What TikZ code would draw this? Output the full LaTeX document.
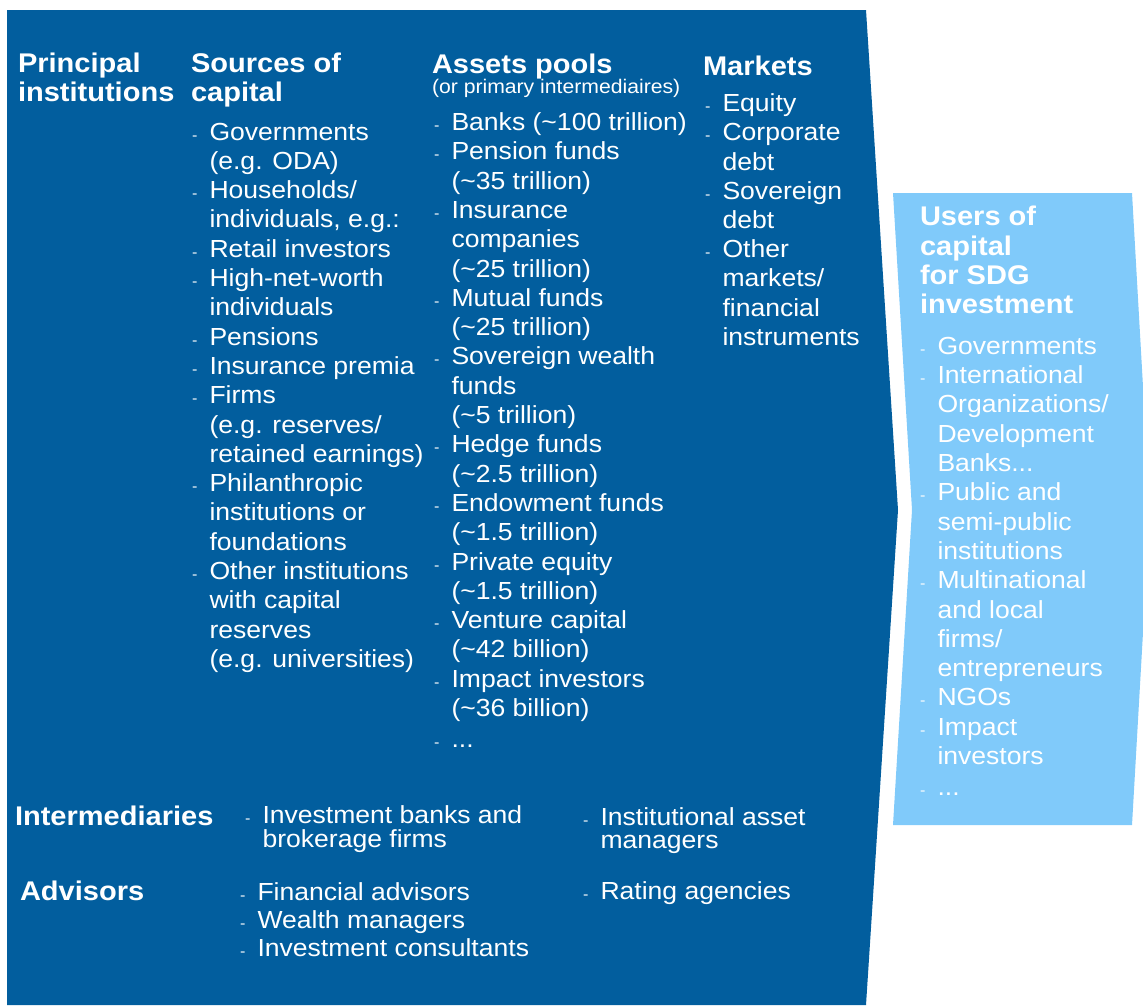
\documentclass[tikz,border=0pt]{standalone}
\usepackage{fontspec}
\setmainfont{Liberation Sans}[FakeStretch=1.075]
\definecolor{dkblue}{RGB}{2,94,158}
\definecolor{ltblue}{RGB}{128,202,250}
\newcommand\dsh{\makebox[17.5pt][l]{\fontsize{15}{15}\selectfont -}}
\newcommand\tl{\textasciitilde}
\newcommand\colblk[1]{\begin{tabular}[t]{@{}l@{}l@{}}#1\end{tabular}}
\newcommand\hblk[1]{\begin{tabular}[t]{@{}l@{}}#1\end{tabular}}
\tikzset{
  txt/.style={anchor=base west, inner sep=0pt, outer sep=0pt, text=white,
    font=\fontsize{24.7}{29.3}\selectfont},
  txtm/.style={txt, font=\fontsize{24.7}{29.2}\selectfont},
  txttight/.style={txt, font=\fontsize{24.7}{23.5}\selectfont},
  txtadv/.style={txt, font=\fontsize{24.7}{28.4}\selectfont},
  hd/.style={anchor=base west, inner sep=0pt, outer sep=0pt, text=white,
    font=\bfseries\fontsize{27}{28.5}\selectfont},
  hdu/.style={hd, font=\bfseries\fontsize{27}{29.4}\selectfont},
  sub/.style={anchor=base west, inner sep=0pt, outer sep=0pt, text=white,
    font=\fontsize{19.7}{22}\selectfont},
}
\begin{document}
\begin{tikzpicture}[x=1pt,y=-1pt]
\useasboundingbox (0,0) rectangle (1143,1005);
% shapes
\fill[dkblue] (7,10) -- (866,10) -- (898,510) -- (866,1005) -- (7,1005) -- cycle;
\begin{scope}
\clip (0,0) rectangle (1143,1005);
\fill[ltblue] (893,193) -- (1132,193) -- (1150,510) -- (1132,825) -- (893,825) -- (912,510) -- cycle;
\end{scope}
% headings
\node[hd] (hprin) at (18,72.7) {\hblk{Principal\\institutions}};
\node[hd] (hsrc) at (191,72.7) {\hblk{Sources of\\capital}};
\node[hd] (hass) at (432,73.3) {Assets pools};
\node[sub] (hsub) at (432,93) {(or primary intermediaires)};
\node[hd] (hmkt) at (703,75) {Markets};
\node[hdu] (husr) at (920,225.7) {\hblk{Users of\\capital\\for SDG\\investment}};
% sources
\node[txt] (src) at (192,140) {\colblk{%
\dsh & Governments\\ & (e.g. ODA)\\
\dsh & Households/\\ & individuals, e.g.:\\
\dsh & Retail investors\\
\dsh & High-net-worth\\ & individuals\\
\dsh & Pensions\\
\dsh & Insurance premia\\
\dsh & Firms\\ & (e.g. reserves/\\ & retained earnings)\\
\dsh & Philanthropic\\ & institutions or\\ & foundations\\
\dsh & Other institutions\\ & with capital\\ & reserves\\ & (e.g. universities)}};
% asset pools
\node[txt] (ass) at (434,130.5) {\colblk{%
\dsh & Banks (\tl 100 trillion)\\
\dsh & Pension funds\\ & (\tl 35 trillion)\\
\dsh & Insurance\\ & companies\\ & (\tl 25 trillion)\\
\dsh & Mutual funds\\ & (\tl 25 trillion)\\
\dsh & Sovereign wealth\\ & funds\\ & (\tl 5 trillion)\\
\dsh & Hedge funds\\ & (\tl 2.5 trillion)\\
\dsh & Endowment funds\\ & (\tl 1.5 trillion)\\
\dsh & Private equity\\ & (\tl 1.5 trillion)\\
\dsh & Venture capital\\ & (\tl 42 billion)\\
\dsh & Impact investors\\ & (\tl 36 billion)\\[1.5pt]
\dsh & ...}};
% markets
\node[txtm] (mkt) at (705,111.7) {\colblk{%
\dsh & Equity\\
\dsh & Corporate\\ & debt\\
\dsh & Sovereign\\ & debt\\
\dsh & Other\\ & markets/\\ & financial\\ & instruments}};
% users
\node[txt] (usr) at (920,354.3) {\colblk{%
\dsh & Governments\\
\dsh & International\\ & Organizations/\\ & Development\\ & Banks...\\
\dsh & Public and\\ & semi-public\\ & institutions\\
\dsh & Multinational\\ & and local\\ & firms/\\ & entrepreneurs\\
\dsh & NGOs\\
\dsh & Impact\\ & investors\\[2pt]
\dsh & ...}};
% intermediaries
\node[hd] (hint) at (15,825) {Intermediaries};
\node[txttight] (int1) at (245,823) {\colblk{\dsh & Investment banks and\\ & brokerage firms}};
\node[txttight] (int2) at (583,825) {\colblk{\dsh & Institutional asset\\ & managers}};
% advisors
\node[hd] (hadv) at (20,900.7) {Advisors};
\node[txtadv] (adv1) at (240,900) {\colblk{\dsh & Financial advisors\\ \dsh & Wealth managers\\ \dsh & Investment consultants}};
\node[txt] (adv2) at (583,899) {\colblk{\dsh & Rating agencies}};
\end{tikzpicture}
\end{document}
